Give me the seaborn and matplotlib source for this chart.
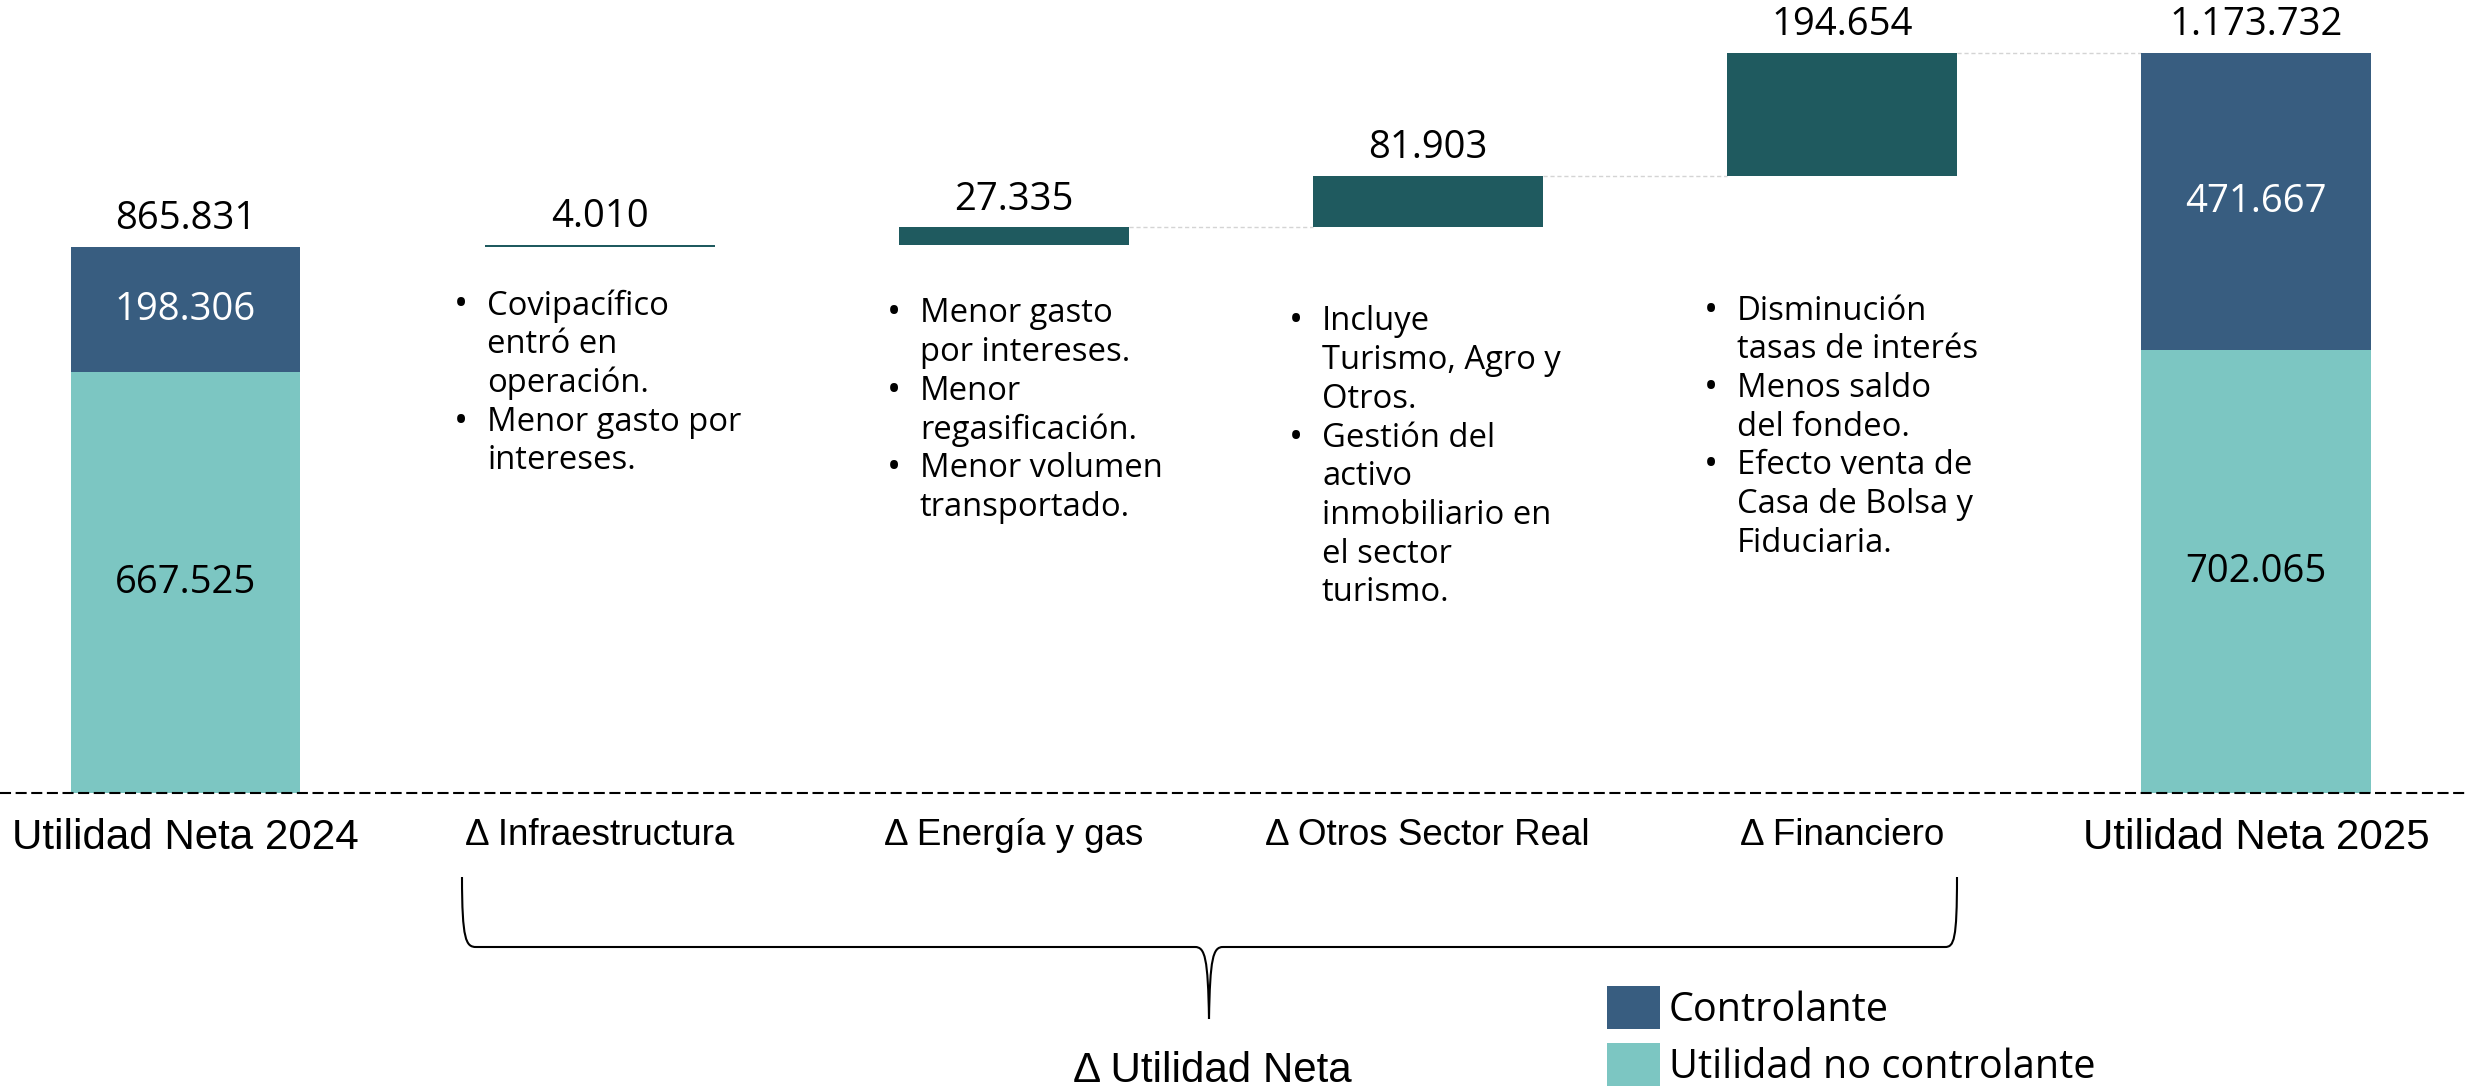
import matplotlib
matplotlib.use("Agg")
import matplotlib.pyplot as plt
import seaborn as sns
import numpy as np
from matplotlib.patches import Patch, PathPatch
from matplotlib.path import Path

# ---------------- data ----------------
categories = ["Utilidad Neta 2024", "Δ Infraestructura", "Δ Energía y gas",
              "Δ Otros Sector Real", "Δ Financiero", "Utilidad Neta 2025"]
end_categories = ["Utilidad Neta 2024", "Utilidad Neta 2025"]
controlante = [198306, 471667]
no_controlante = [667525, 702065]
totales = [865831, 1173732]
delta_categories = ["Δ Infraestructura", "Δ Energía y gas", "Δ Otros Sector Real", "Δ Financiero"]
deltas = [4010, 27335, 81903, 194654]
bullets = [
    [["Covipacífico", "entró en", "operación."], ["Menor gasto por", "intereses."]],
    [["Menor gasto", "por intereses."], ["Menor", "regasificación."], ["Menor volumen", "transportado."]],
    [["Incluye", "Turismo, Agro y", "Otros."], ["Gestión del", "activo", "inmobiliario en", "el sector", "turismo."]],
    [["Disminución", "tasas de interés"], ["Menos saldo", "del fondeo."], ["Efecto venta de", "Casa de Bolsa y", "Fiduciaria."]],
]
legend_labels = ["Controlante", "Utilidad no controlante"]
brace_label = "Δ Utilidad Neta"

# ---------------- style ----------------
C_BLUE = "#385D80"
C_TEAL = "#7CC6C2"
C_DARK = "#1F5A5F"
C_CONN = "#D4D4D4"
F_NUM = "Open Sans"
F_CAT = "Liberation Sans"

W, H = 2465, 1087
fig = plt.figure(figsize=(W / 100, H / 100), dpi=100)


def fx(x):
    return x / W


def fy(y):
    return 1 - y / H


def fmt(v):
    return f"{v:,}".replace(",", ".")


BASE_PX = 793
ax = fig.add_axes([0, fy(BASE_PX), 1, BASE_PX / H])
BW = 0.555

sns.barplot(x=end_categories, y=no_controlante, order=categories, color=C_TEAL,
            width=BW, errorbar=None, saturation=1, linewidth=0, ax=ax)
sns.barplot(x=end_categories, y=controlante, bottom=no_controlante, order=categories,
            color=C_BLUE, width=BW, errorbar=None, saturation=1, linewidth=0, ax=ax)

cum = np.cumsum([totales[0]] + deltas)
bases = cum[:-1]
tops = cum[1:]
sns.barplot(x=delta_categories, y=deltas, bottom=bases, order=categories, color=C_DARK,
            width=BW, errorbar=None, saturation=1, linewidth=0, ax=ax)

# limits: baseline at px 793, 1.173.732 at px 53
units_per_px = totales[1] / (BASE_PX - 53)
ax.set_ylim(0, BASE_PX * units_per_px)
step_px = 414.1
ax.set_xlim(-185.5 / step_px, (W - 185.5) / step_px)

# connectors (energy->otros, otros->fin, fin->2025)
for i in range(2, 5):
    lvl = tops[i - 1]
    ax.plot([i + BW / 2, i + 1 - BW / 2], [lvl, lvl], color=C_CONN, lw=1,
            ls=(0, (3, 2)), zorder=0.5)

# baseline
ax.axhline(0, color="black", lw=1.5, ls=(0, (5.3, 2.2)), clip_on=False, zorder=3)

# value labels
NUM_FS = 27.5
for i, tot in zip([0, 5], totales):
    ax.annotate(fmt(tot), (i, tot), xytext=(0, 20), textcoords="offset points",
                ha="center", va="center", fontsize=NUM_FS, family=F_NUM, color="black")
for k, (d, t) in enumerate(zip(deltas, tops)):
    ax.annotate(fmt(d), (k + 1, t), xytext=(0, 20), textcoords="offset points",
                ha="center", va="center", fontsize=NUM_FS, family=F_NUM, color="black")
for i, c, n in zip([0, 5], controlante, no_controlante):
    ax.text(i, n + c / 2, fmt(c), ha="center", va="center", fontsize=NUM_FS,
            family=F_NUM, color="white")
    ax.text(i, n / 2, fmt(n), ha="center", va="center", fontsize=NUM_FS,
            family=F_NUM, color="black")

# axes cosmetics
for s in ax.spines.values():
    s.set_visible(False)
ax.set_yticks([])
ax.set_xlabel("")
ax.set_ylabel("")
ax.set_xticks(range(len(categories)))
ax.set_xticklabels(categories)
ax.tick_params(axis="x", length=0, pad=18)
for k, lbl in enumerate(ax.get_xticklabels()):
    lbl.set_fontfamily(F_CAT)
    lbl.set_fontsize(30.3 if k in (0, len(categories) - 1) else 26.5)
    lbl.set_color("black")

# bullet texts
text_x = [487, 920, 1322, 1737]
first_y = [302, 310, 318, 307]
line_step = 38.7
for col, items in enumerate(bullets):
    y = first_y[col]
    for item in items:
        fig.text(fx(text_x[col] - 33), fy(y), "•", ha="left", va="center_baseline",
                 fontsize=27, family=F_NUM, color="black")
        for line in item:
            fig.text(fx(text_x[col]), fy(y), line, ha="left", va="center_baseline",
                     fontsize=23.6, family=F_NUM, color="black")
            y += line_step

# brace
pts = [(462, 877), (462, 940), (466, 947), (476, 947),
       (1195, 947), (1205, 947), (1208, 958), (1209, 1019),
       (1210, 958), (1213, 947), (1223, 947),
       (1945, 947), (1954, 947), (1957, 940), (1957, 877)]
codes = [Path.MOVETO, Path.CURVE4, Path.CURVE4, Path.CURVE4,
         Path.LINETO, Path.CURVE4, Path.CURVE4, Path.CURVE4,
         Path.CURVE4, Path.CURVE4, Path.CURVE4,
         Path.LINETO, Path.CURVE4, Path.CURVE4, Path.CURVE4]
verts = [(fx(x), fy(y)) for x, y in pts]
fig.add_artist(PathPatch(Path(verts, codes), transform=fig.transFigure, fill=False,
                         lw=1.5, edgecolor="black"))
fig.text(fx(1212), fy(1071), brace_label, ha="center", va="center", fontsize=30.3,
         family=F_CAT, color="black")

# legend
handles = [Patch(facecolor=C_BLUE, edgecolor="none"), Patch(facecolor=C_TEAL, edgecolor="none")]
fig.legend(handles=handles, labels=legend_labels, loc="upper left",
           bbox_to_anchor=(fx(1607), fy(986)), frameon=False,
           prop={"family": F_NUM, "size": 28.5}, handlelength=1.34, handleheight=1.3,
           handletextpad=0.22, labelspacing=0.3, borderpad=0, borderaxespad=0)

fig.savefig("out.png", dpi=100)
